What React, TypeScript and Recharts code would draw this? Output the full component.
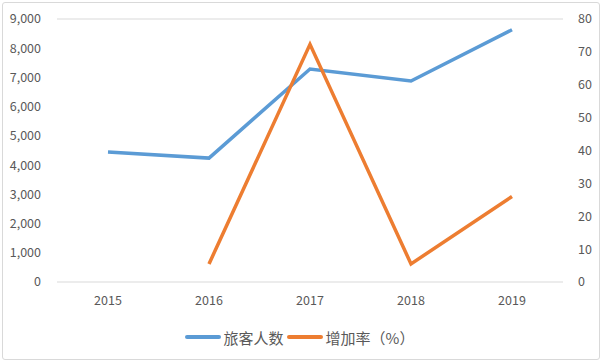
import { LineChart, Line, CartesianGrid, XAxis, YAxis, Legend } from 'recharts';

const years = ['2015', '2016', '2017', '2018', '2019'];
const passengers = [4450, 4240, 7290, 6880, 8630];
const growthRate = [null, 5.5, 72.3, 5.5, 26];
const leftTicks = [0, 1000, 2000, 3000, 4000, 5000, 6000, 7000, 8000, 9000];
const rightTicks = [0, 10, 20, 30, 40, 50, 60, 70, 80];

const BLUE = '#5B9BD5';
const ORANGE = '#ED7D31';
const FONT = '"Noto Sans CJK SC", "Noto Sans", sans-serif';

const data = years.map((year, i) => ({
  year,
  passengers: passengers[i],
  rate: growthRate[i],
}));

const LegendContent = () => (
  <div
    style={{
      height: 50,
      display: 'flex',
      justifyContent: 'center',
      alignItems: 'center',
      fontFamily: FONT,
      fontSize: 15,
      color: '#595959',
    }}
  >
    {[
      { label: '旅客人数', color: BLUE },
      { label: '增加率（%）', color: ORANGE },
    ].map((item) => (
      <span key={item.label} style={{ display: 'flex', alignItems: 'center' }}>
        <span
          style={{
            display: 'inline-block',
            width: 36,
            height: 4,
            borderRadius: 2,
            background: item.color,
            marginRight: 3,
          }}
        />
        <span style={{ marginRight: 3 }}>{item.label}</span>
      </span>
    ))}
  </div>
);

const tickStyle = { fill: '#595959', fontSize: 12.5, fontFamily: FONT };

const App = () => (
  <div
    style={{
      position: 'absolute',
      left: 0,
      top: 0,
      width: 602,
      height: 362,
      background: '#fff',
    }}
  >
    <div
      style={{
        position: 'absolute',
        left: 2,
        top: 2,
        width: 596,
        height: 356,
        border: '1px solid #D9D9D9',
        borderRadius: 3,
      }}
    />
    <LineChart
      width={602}
      height={362}
      data={data}
      margin={{ top: 19, right: 0, left: 0, bottom: 0 }}
    >
      <CartesianGrid vertical={false} stroke='#D9D9D9' />
      <XAxis
        dataKey='year'
        height={30}
        axisLine={false}
        tickLine={false}
        tick={tickStyle}
        padding={{ left: 51, right: 51 }}
        dy={6}
      />
      <YAxis
        yAxisId='left'
        width={57}
        domain={[0, 9000]}
        ticks={leftTicks}
        axisLine={false}
        tickLine={false}
        tick={tickStyle}
        tickMargin={10}
        tickFormatter={(v: number) => v.toLocaleString('en-US')}
      />
      <YAxis
        yAxisId='right'
        orientation='right'
        width={39}
        domain={[0, 80]}
        ticks={rightTicks}
        axisLine={false}
        tickLine={false}
        tick={tickStyle}
        tickMargin={9}
      />
      <Legend verticalAlign='bottom' height={50} content={<LegendContent />} />
      <Line
        yAxisId='left'
        dataKey='passengers'
        stroke={BLUE}
        strokeWidth={3.5}
        dot={false}
        isAnimationActive={false}
      />
      <Line
        yAxisId='right'
        dataKey='rate'
        stroke={ORANGE}
        strokeWidth={3.5}
        dot={false}
        isAnimationActive={false}
      />
    </LineChart>
  </div>
);

export default App;
